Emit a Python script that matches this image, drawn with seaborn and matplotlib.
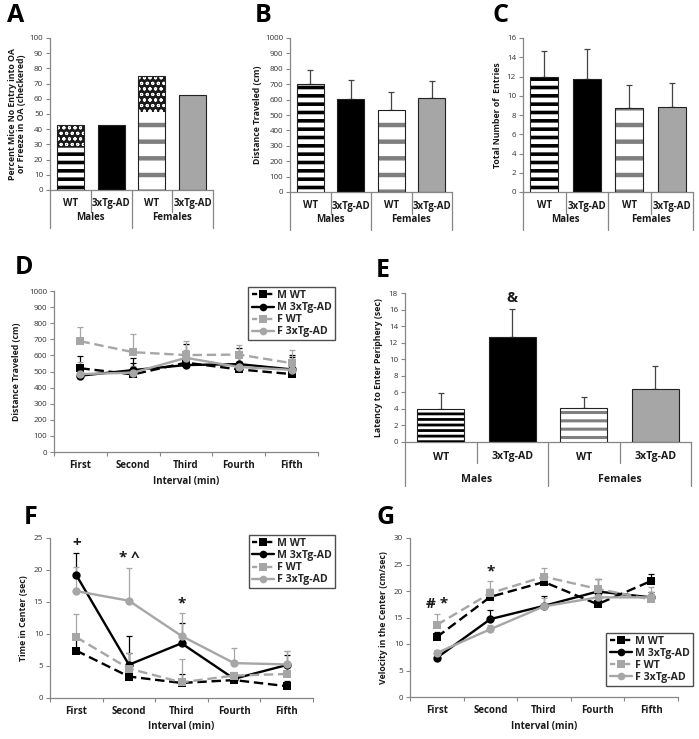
import numpy as np
import pandas as pd
import matplotlib
matplotlib.use('Agg')
import matplotlib.pyplot as plt
import matplotlib.transforms as mtransforms
from matplotlib.lines import Line2D
import seaborn as sns

# ---------------- data ----------------
bar_keys = ['M WT', 'M 3xTg-AD', 'F WT', 'F 3xTg-AD']
bar_labels = ['WT', '3xTg-AD', 'WT', '3xTg-AD']
sex_groups = ['Males', 'Females']

# A: total = no entry + freeze (checkered part on top)
a_total = [43, 43, 75, 62.5]
a_no_entry = [28, 43, 51, 62.5]

b_dist = [700, 605, 535, 612]
b_err = [95, 125, 115, 108]

c_entries = [12.0, 11.75, 8.75, 8.85]
c_err = [2.65, 3.15, 2.4, 2.45]

e_latency = [4.0, 12.7, 4.15, 6.35]
e_err = [1.95, 3.35, 1.3, 2.85]
e_marks = ['', '&', '', '']

intervals = ['First', 'Second', 'Third', 'Fourth', 'Fifth']
line_groups = ['M WT', 'M 3xTg-AD', 'F WT', 'F 3xTg-AD']

d_m_wt = [520, 482, 555, 513, 484]
d_m_tg = [474, 509, 540, 546, 513]
d_f_wt = [688, 620, 602, 605, 552]
d_f_tg = [484, 493, 585, 528, 510]
d_m_wt_err = [76, 73, 116, 80, 108]
d_m_tg_err = [60, 77, 60, 98, 89]
d_f_wt_err = [87, 114, 89, 60, 83]
d_f_tg_err = [77, 40, 50, 70, 70]

f_m_wt = [7.4, 3.35, 2.35, 2.8, 1.85]
f_m_tg = [19.2, 5.2, 8.55, 3.0, 5.15]
f_f_wt = [9.5, 4.6, 2.45, 3.5, 3.75]
f_f_tg = [16.7, 15.2, 9.7, 5.45, 5.25]
f_m_wt_err = [2.6, 3.7, 1.4, 0.4, 0.8]
f_m_tg_err = [3.5, 4.5, 3.1, 0.5, 1.6]
f_f_wt_err = [3.7, 2.4, 3.7, 0.6, 3.6]
f_f_tg_err = [3.8, 5.1, 3.6, 2.4, 2.1]
f_marks = ['+', '* ^', '*', '', '']

g_m_wt = [11.3, 18.9, 21.7, 17.5, 21.9]
g_m_tg = [7.4, 14.7, 17.2, 19.9, 18.8]
g_f_wt = [13.6, 19.6, 22.7, 20.4, 18.4]
g_f_tg = [8.3, 12.8, 17.1, 18.8, 18.8]
g_m_wt_err = [1.0, 1.5, 1.2, 1.0, 1.4]
g_m_tg_err = [0.5, 1.8, 1.9, 2.3, 1.0]
g_f_wt_err = [2.1, 2.3, 1.7, 1.8, 2.4]
g_f_tg_err = [0.6, 0.8, 1.5, 1.2, 1.0]
g_marks = ['# *', '*', '', '', '']

# ---------------- style ----------------
sns.set_theme(style='white')
plt.rcParams['font.family'] = ['Open Sans', 'DejaVu Sans']
W, H = 699, 739
fig = plt.figure(figsize=(W / 100, H / 100), dpi=100)

SPINE = '#868686'
GRAY = '#a6a6a6'
STRIPE_GRAY = '#7f7f7f'
TXT = '#1a1a1a'
pal = {'M WT': 'black', 'M 3xTg-AD': 'black', 'F WT': GRAY, 'F 3xTg-AD': GRAY}


def axes_px(x0, y0, x1, y1):
    return fig.add_axes([x0 / W, 1 - y1 / H, (x1 - x0) / W, (y1 - y0) / H])


def base_style(ax, ylim, ystep):
    ax.set_ylim(*ylim)
    ax.set_yticks(np.arange(ylim[0], ylim[1] + ystep / 2, ystep))
    for s in ['top', 'right']:
        ax.spines[s].set_visible(False)
    for s in ['left', 'bottom']:
        ax.spines[s].set_color(SPINE)
        ax.spines[s].set_linewidth(0.9)
    ax.tick_params(axis='y', left=True, length=3, width=0.8, color=SPINE,
                   labelsize=5.8, labelcolor='#333333', pad=2)
    ax.set_facecolor('none')


def ylabel(ax, text, px, fs=6.3):
    pos = ax.get_position()
    xa = (px / W - pos.x0) / pos.width
    ax.set_ylabel(text, fontsize=fs, fontweight='bold', color=TXT, va='center',
                  linespacing=1.1)
    ax.yaxis.set_label_coords(xa, 0.5)


def category_table(ax, row1, row2, short, long, fs):
    n = len(bar_labels)
    ax.set_xlim(-0.5, n - 0.5)
    ax.set_xticks([])
    ax.set_xlabel('')
    base = ax.get_xaxis_transform()

    def off(px):
        return base + mtransforms.ScaledTranslation(0, -px / 100, fig.dpi_scale_trans)

    for i, lab in enumerate(bar_labels):
        ax.text(i, 0, lab, transform=off(row1), ha='center', va='center',
                fontsize=fs, fontweight='bold', color=TXT)
    for j, g in enumerate(sex_groups):
        ax.text(2 * j + 0.5, 0, g, transform=off(row2), ha='center', va='center',
                fontsize=fs, fontweight='bold', color=TXT)
    hpx = ax.get_position().height * H
    for xb in np.arange(-0.5, n, 1.0):
        depth = long if int(xb + 0.5) % 2 == 0 else short
        ax.plot([xb, xb], [0, -depth / hpx], transform=base, color=SPINE,
                lw=0.9, clip_on=False)


def set_hlw(bars, lw):
    for p in bars:
        if hasattr(p, 'set_hatch_linewidth'):
            p.set_hatch_linewidth(lw)


def bar_panel(ax, values, errs, width, hatch_m, hatch_f, lw_m=2.6, lw_f=3.2,
              stripe_top=None, checker=False):
    x = np.arange(len(bar_keys))
    sns.barplot(x=bar_keys, y=values, hue=bar_keys, palette=pal, width=width,
                errorbar=None, legend=False, ax=ax, linewidth=0, zorder=2)
    hts = list(values)
    if checker:
        # the part above the stripes is checkered (froze in open arm)
        plt.rcParams['hatch.linewidth'] = 0.7
        for i in [0, 2]:
            p = ax.patches[i]
            p.set_facecolor('#1a1a1a')
            p.set_edgecolor('white')
            p.set_hatch('ooo')
            set_hlw([p], 0.7)
            p.set_linewidth(0)
    tops = hts if stripe_top is None else list(stripe_top)
    # striped WT bars
    plt.rcParams['hatch.linewidth'] = lw_m
    b1 = ax.bar([x[0]], [tops[0]], width, color='white',
                edgecolor='black', hatch=hatch_m, linewidth=0, zorder=3)
    set_hlw(b1, lw_m)
    plt.rcParams['hatch.linewidth'] = lw_f
    b2 = ax.bar([x[2]], [tops[2]], width, color='white',
                edgecolor=STRIPE_GRAY, hatch=hatch_f, linewidth=0, zorder=3)
    set_hlw(b2, lw_f)
    # outlines
    ax.bar(x, hts, width, fill=False, edgecolor='#222222', linewidth=0.8, zorder=4)
    if errs is not None:
        ax.errorbar(x, hts, yerr=[np.zeros(len(errs)), errs], fmt='none',
                    ecolor='#444444', elinewidth=0.9, capsize=2.2, capthick=0.9, zorder=1)


# ---------------- A ----------------
axA = axes_px(50, 38, 213, 190)
bar_panel(axA, a_total, None, 0.66, '--', '-', stripe_top=a_no_entry, checker=True)
base_style(axA, (0, 100), 10)
category_table(axA, 14, 28, 22, 38, 7.0)
ylabel(axA, 'Percent Mice No Entry into OA\nor Freeze in OA (checkered)', 17)

# ---------------- B ----------------
axB = axes_px(290, 38, 452, 192)
bar_panel(axB, b_dist, b_err, 0.66, '--', '-')
base_style(axB, (0, 1000), 100)
category_table(axB, 14, 28, 22, 38, 7.0)
ylabel(axB, 'Distance Traveled (cm)', 258)

# ---------------- C ----------------
axC = axes_px(523, 38, 693, 192)
bar_panel(axC, c_entries, c_err, 0.66, '--', '-')
base_style(axC, (0, 16), 2)
category_table(axC, 14, 28, 22, 38, 7.0)
ylabel(axC, 'Total Number of  Entries', 497)

# ---------------- E ----------------
axE = axes_px(405, 293, 691, 442)
bar_panel(axE, e_latency, e_err, 0.66, '---', '--', lw_m=2.0, lw_f=2.2)
base_style(axE, (0, 18), 2)
category_table(axE, 15, 37, 21, 44, 7.6)
ylabel(axE, 'Latency to Enter Periphery (sec)', 378)
for i, (m, v, e) in enumerate(zip(e_marks, e_latency, e_err)):
    if m:
        axE.annotate(m, (i, v + e), xytext=(0, 3), textcoords='offset points',
                     ha='center', va='bottom', fontsize=10.5, fontweight='bold', color=TXT)

# ---------------- line panels ----------------
markers = {'M WT': 's', 'M 3xTg-AD': 'o', 'F WT': 's', 'F 3xTg-AD': 'o'}
dashes = {'M WT': (4, 2), 'M 3xTg-AD': '', 'F WT': (4, 2), 'F 3xTg-AD': ''}


def line_panel(ax, series, errs, ylim, ystep, marks, legend_anchor, legend_loc):
    x = np.arange(len(intervals))
    rows = []
    for g, vals in zip(line_groups, series):
        for i, v in enumerate(vals):
            rows.append((i, v, g))
    df = pd.DataFrame(rows, columns=['pos', 'value', 'group'])
    for g, vals, err in zip(line_groups, series, errs):
        ax.errorbar(x, vals, yerr=[np.zeros(len(err)), err], fmt='none',
                    ecolor=pal[g], elinewidth=0.9, capsize=2, capthick=0.9, zorder=1)
    sns.lineplot(data=df, x='pos', y='value', hue='group', style='group',
                 hue_order=line_groups, style_order=line_groups, palette=pal,
                 markers=markers, dashes=dashes, markersize=6, markeredgewidth=0,
                 linewidth=1.7, legend=False, ax=ax, zorder=3)
    ax.set_xlim(-0.5, len(intervals) - 0.5)
    ax.set_xticks(x)
    ax.set_xticklabels(intervals, fontsize=7, fontweight='bold', color=TXT)
    ax.set_xticks(np.arange(-0.5, len(intervals), 1.0), minor=True)
    base_style(ax, ylim, ystep)
    ax.tick_params(axis='x', which='major', length=0, pad=6)
    ax.tick_params(axis='x', which='minor', bottom=True, length=3, width=0.8, color=SPINE)
    ax.set_xlabel('Interval (min)', fontsize=7, fontweight='bold', color=TXT, labelpad=3)
    tops = np.max([np.array(v) + np.array(e) for v, e in zip(series, errs)], axis=0)
    for i, m in enumerate(marks):
        if m:
            ax.annotate(m, (i, tops[i]), xytext=(0, 2), textcoords='offset points',
                        ha='center', va='bottom', fontsize=11, fontweight='bold', color=TXT)
    handles = [Line2D([], [], color=pal[g], marker=markers[g], markersize=5.5,
                      markeredgewidth=0, lw=1.7,
                      ls='-' if dashes[g] == '' else (0, (2.2, 1.0)))
               for g in line_groups]
    leg = ax.legend(handles, line_groups, loc=legend_loc, bbox_to_anchor=legend_anchor,
                    frameon=True, fancybox=False, handlelength=2.1, handletextpad=0.3,
                    borderpad=0.3, labelspacing=0.1, borderaxespad=0,
                    prop={'size': 7.6, 'weight': 'bold'})
    leg.get_frame().set_edgecolor('#222222')
    leg.get_frame().set_linewidth(1.0)
    leg.set_zorder(5)


# D
axD = axes_px(54, 291, 318, 452)
line_panel(axD, [d_m_wt, d_m_tg, d_f_wt, d_f_tg],
           [d_m_wt_err, d_m_tg_err, d_f_wt_err, d_f_tg_err],
           (0, 1000), 100, ['', '', '', '', ''], (1.064, 1.025), 'upper right')
ylabel(axD, 'Distance Traveled (cm)', 16)

# F
axF = axes_px(50, 538, 313, 698)
line_panel(axF, [f_m_wt, f_m_tg, f_f_wt, f_f_tg],
           [f_m_wt_err, f_m_tg_err, f_f_wt_err, f_f_tg_err],
           (0, 25), 5, f_marks, (1.084, 1.019), 'upper right')
ylabel(axF, 'Time in Center (sec)', 23)

# G
axG = axes_px(410, 538, 678, 697)
line_panel(axG, [g_m_wt, g_m_tg, g_f_wt, g_f_tg],
           [g_m_wt_err, g_m_tg_err, g_f_wt_err, g_f_tg_err],
           (0, 30), 5, g_marks, (1.056, 0.069), 'lower right')
ylabel(axG, 'Velocity in the Center (cm/sec)', 383)

# panel letters
for letter, px, py in [('A', 7, 16), ('B', 255, 16), ('C', 493, 16),
                       ('D', 15, 268), ('E', 376, 270), ('F', 24, 517), ('G', 377, 517)]:
    fig.text(px / W, 1 - py / H, letter, fontsize=18, fontweight='bold',
             ha='left', va='center', color='black')

fig.savefig('out.png', dpi=100)
